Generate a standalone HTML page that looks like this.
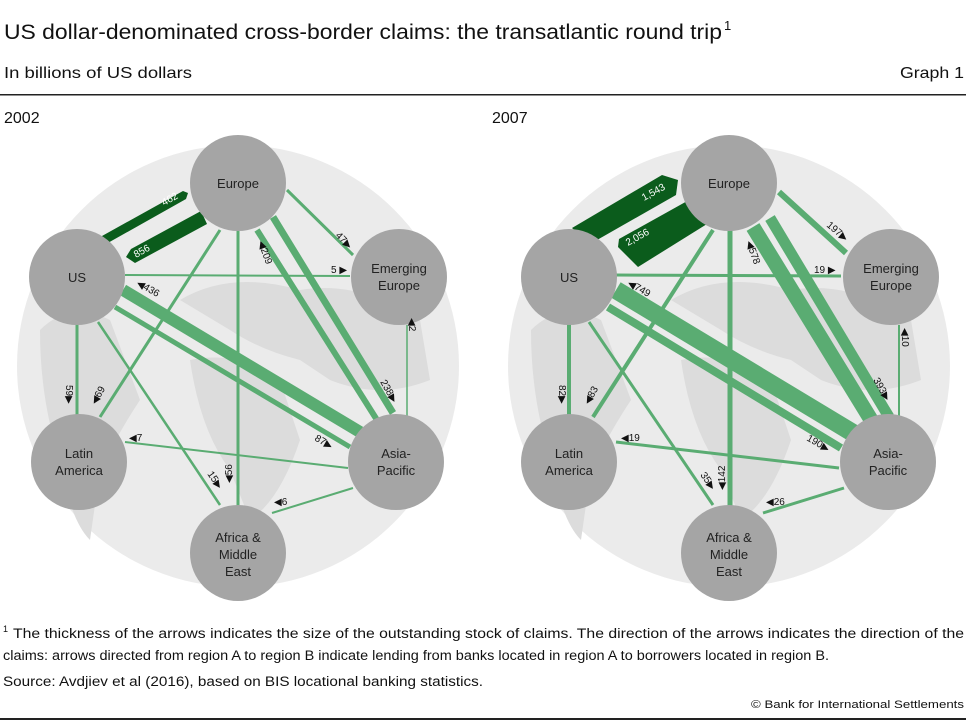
<!DOCTYPE html>
<html><head><meta charset="utf-8"><style>
body{margin:0;background:#fff}
svg{display:block;font-family:"Liberation Sans",sans-serif}
</style></head><body>
<svg width="966" height="722" viewBox="0 0 966 722" xmlns="http://www.w3.org/2000/svg">
<rect width="966" height="722" fill="#fff"/>
<text x="4" y="39" font-size="21" fill="#111" textLength="718" lengthAdjust="spacingAndGlyphs">US dollar-denominated cross-border claims: the transatlantic round trip</text>
<text x="724" y="30" font-size="13" fill="#111">1</text>
<text x="4" y="78" font-size="16" fill="#111" textLength="188" lengthAdjust="spacingAndGlyphs">In billions of US dollars</text>
<text x="964" y="78" font-size="16" fill="#111" text-anchor="end" textLength="64" lengthAdjust="spacingAndGlyphs">Graph 1</text>
<rect x="0" y="94" width="966" height="1.5" fill="#222"/>
<text x="4" y="123" font-size="16" fill="#111">2002</text>
<text x="492" y="123" font-size="16" fill="#111">2007</text>

<defs>
<g id="bg">
<circle cx="238" cy="366" r="221" fill="#ebebeb"/>
<path d="M40 330 Q70 300 110 320 L140 400 Q120 430 100 470 L90 540 Q70 520 60 460 Q40 400 40 330Z" fill="#dcdcdc"/>
<path d="M180 300 Q230 270 300 290 Q360 280 420 320 L430 380 Q380 400 330 380 L300 360 Q260 350 230 330 Z" fill="#dcdcdc"/>
<path d="M190 360 Q240 350 280 380 L300 440 Q280 500 250 520 L230 470 Q200 430 190 360Z" fill="#dcdcdc"/>
</g>
</defs>

<!-- LEFT 2002 -->
<g>
<use href="#bg"/>
<g stroke="#5aac72" fill="none" stroke-linecap="butt">
<line x1="287" y1="190" x2="353" y2="255" stroke-width="3"/>
<line x1="125" y1="275" x2="350" y2="276" stroke-width="2"/>
<line x1="257" y1="230" x2="377" y2="420" stroke-width="6"/>
<line x1="273" y1="217" x2="393" y2="413" stroke-width="7"/>
<line x1="238" y1="228" x2="238" y2="506" stroke-width="3"/>
<line x1="220" y1="230" x2="100" y2="417" stroke-width="3"/>
<line x1="123" y1="290" x2="360" y2="432" stroke-width="12"/>
<line x1="115" y1="307" x2="350" y2="447" stroke-width="5"/>
<line x1="77" y1="322" x2="77" y2="416" stroke-width="3"/>
<line x1="98" y1="322" x2="220" y2="505" stroke-width="2.5"/>
<line x1="125" y1="442" x2="348" y2="468" stroke-width="2"/>
<line x1="353" y1="488" x2="272" y2="513" stroke-width="2"/>
<line x1="407" y1="325" x2="407" y2="416" stroke-width="1.5"/>
</g>
<polygon points="102,236 183,191 188,193 186,199 106,244" fill="#0b5c1c"/>
<polygon points="126,257 131,249 201,211 207,224 135,263" fill="#0b5c1c"/>
<text x="0" y="0" font-size="10" fill="#fff" transform="translate(164,206) rotate(-29)">462</text>
<text x="0" y="0" font-size="10" fill="#fff" transform="translate(136,258) rotate(-29)">856</text>
<g fill="#a5a5a5">
<circle cx="238" cy="183" r="48"/><circle cx="77" cy="277" r="48"/><circle cx="399" cy="277" r="48"/>
<circle cx="79" cy="462" r="48"/><circle cx="396" cy="462" r="48"/><circle cx="238" cy="553" r="48"/>
</g>
<g font-size="13" fill="#222" text-anchor="middle">
<text x="238" y="188">Europe</text><text x="77" y="282">US</text>
<text x="399" y="273">Emerging</text><text x="399" y="290">Europe</text>
<text x="79" y="458">Latin</text><text x="79" y="475">America</text>
<text x="396" y="458">Asia-</text><text x="396" y="475">Pacific</text>
<text x="238" y="542">Africa &amp;</text><text x="238" y="559">Middle</text><text x="238" y="576">East</text>
</g>
<g font-size="10" fill="#111">
<text transform="translate(335,236) rotate(45)">47▶</text>
<text x="331" y="273">5 ▶</text>
<text transform="translate(258,242) rotate(70)">◀209</text>
<text transform="translate(136,285) rotate(30)">◀436</text>
<text transform="translate(380,382) rotate(60)">238▶</text>
<text transform="translate(409,318) rotate(90)">◀2</text>
<text transform="translate(66,385) rotate(90)">59▶</text>
<text transform="translate(96,405) rotate(-60)">◀69</text>
<text x="129" y="441">◀7</text>
<text transform="translate(314,440) rotate(30)">87▶</text>
<text transform="translate(232,483) rotate(-90)">◀56</text>
<text transform="translate(207,474) rotate(55)">15▶</text>
<text x="274" y="505">◀6</text>
</g>
</g>

<!-- RIGHT 2007 -->
<g>
<use href="#bg" transform="translate(491,0)"/>
<g stroke="#5aac72" fill="none">
<line x1="779" y1="192" x2="846" y2="253" stroke-width="6"/>
<line x1="615" y1="275" x2="841" y2="276" stroke-width="3"/>
<line x1="753" y1="227" x2="873" y2="423" stroke-width="15"/>
<line x1="770" y1="218" x2="889" y2="417" stroke-width="11"/>
<line x1="730" y1="228" x2="730" y2="506" stroke-width="5"/>
<line x1="713" y1="230" x2="593" y2="417" stroke-width="4"/>
<line x1="616" y1="290" x2="853" y2="433" stroke-width="18"/>
<line x1="608" y1="307" x2="841" y2="448" stroke-width="8"/>
<line x1="569" y1="322" x2="569" y2="416" stroke-width="4"/>
<line x1="589" y1="322" x2="713" y2="505" stroke-width="3"/>
<line x1="616" y1="442" x2="839" y2="468" stroke-width="3"/>
<line x1="844" y1="488" x2="763" y2="513" stroke-width="3"/>
<line x1="899" y1="325" x2="899" y2="416" stroke-width="2"/>
</g>
<polygon points="572,228 662,175 678,180 676,195 590,244" fill="#0b5c1c"/>
<polygon points="618,247 619,239 698,195 707,224 638,267" fill="#0b5c1c"/>
<text font-size="10" fill="#fff" transform="translate(644,201) rotate(-29)">1,543</text>
<text font-size="10" fill="#fff" transform="translate(628,246) rotate(-29)">2,056</text>
<g fill="#a5a5a5">
<circle cx="729" cy="183" r="48"/><circle cx="569" cy="277" r="48"/><circle cx="891" cy="277" r="48"/>
<circle cx="569" cy="462" r="48"/><circle cx="888" cy="462" r="48"/><circle cx="729" cy="553" r="48"/>
</g>
<g font-size="13" fill="#222" text-anchor="middle">
<text x="729" y="188">Europe</text><text x="569" y="282">US</text>
<text x="891" y="273">Emerging</text><text x="891" y="290">Europe</text>
<text x="569" y="458">Latin</text><text x="569" y="475">America</text>
<text x="888" y="458">Asia-</text><text x="888" y="475">Pacific</text>
<text x="729" y="542">Africa &amp;</text><text x="729" y="559">Middle</text><text x="729" y="576">East</text>
</g>
<g font-size="10" fill="#111">
<text transform="translate(826,226) rotate(40)">197▶</text>
<text x="814" y="273">19 ▶</text>
<text transform="translate(746,242) rotate(70)">◀578</text>
<text transform="translate(627,285) rotate(30)">◀749</text>
<text transform="translate(873,380) rotate(60)">393▶</text>
<text transform="translate(902,328) rotate(90)">◀10</text>
<text transform="translate(559,385) rotate(90)">82▶</text>
<text transform="translate(589,405) rotate(-60)">◀83</text>
<text x="621" y="441">◀19</text>
<text transform="translate(806,440) rotate(30)">190▶</text>
<text transform="translate(725,490) rotate(-90)">◀142</text>
<text transform="translate(700,475) rotate(55)">35▶</text>
<text x="766" y="505">◀26</text>
</g>
</g>

<g font-size="13.5" fill="#111">
<text x="3" y="632" font-size="9">1</text>
<text x="13" y="638" textLength="951" lengthAdjust="spacingAndGlyphs">The thickness of the arrows indicates the size of the outstanding stock of claims. The direction of the arrows indicates the direction of the</text>
<text x="3" y="660" textLength="826" lengthAdjust="spacingAndGlyphs">claims: arrows directed from region A to region B indicate lending from banks located in region A to borrowers located in region B.</text>
<text x="3" y="686" textLength="480" lengthAdjust="spacingAndGlyphs">Source: Avdjiev et al (2016), based on BIS locational banking statistics.</text>
<text x="964" y="708" font-size="11" text-anchor="end" textLength="213" lengthAdjust="spacingAndGlyphs">© Bank for International Settlements</text>
</g>
<rect x="0" y="718" width="966" height="2" fill="#222"/>
</svg>
</body></html>
